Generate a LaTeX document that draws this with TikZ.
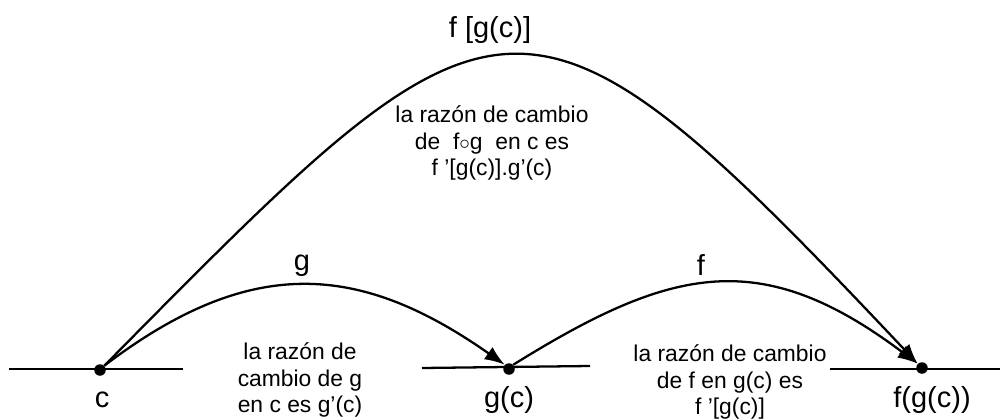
\documentclass[tikz,border=0pt]{standalone}
\usepackage{fontspec}
\setmainfont{Liberation Sans}
\usetikzlibrary{arrows.meta}

\begin{document}
\begin{tikzpicture}[
    dot/.style={circle, fill, inner sep=0pt, minimum size=0.23cm},
    axisline/.style={line width=1.3pt},
    mapping/.style={line width=1.3pt, -{Latex[length=4mm,width=3mm]}},
    ptlabel/.style={font=\fontsize{16.5}{20}\selectfont},
    ratetext/.style={font=\fontsize{13}{15}\selectfont, align=center}
]
    \useasboundingbox (0,0) rectangle (20,8.36);

    \draw[axisline] (0.18,0.98) -- (3.66,0.98);
    \draw[axisline] (8.44,1.00) -- (11.80,1.04);
    \draw[axisline] (16.60,0.98) -- (20.0,0.98);

    \node[dot] (c) at (2.00,0.96) {};
    \node[dot] (gc) at (10.18,0.98) {};
    \node[dot] (fgc) at (18.44,1.00) {};

    \node[ptlabel] (cL) at (2.04,0.36) {c};
    \node[ptlabel] (gcL) at (10.18,0.36) {g(c)};
    \node[ptlabel] (fgcL) at (18.64,0.36) {f(g(c))};

    \draw[mapping] (c.north east) .. controls (5.02,3.28) and (7.20,3.10) .. (gc.north west);
    \draw[mapping] (gc.north east) .. controls (13.44,3.04) and (15.22,3.44) .. (fgc.north west);
    \draw[mapping] (c.north east) .. controls (10.04,9.10) and (10.40,9.52) .. (fgc.north west);

    \node[ptlabel] (gName) at (6.04,3.04) {g};
    \node[ptlabel] (fName) at (14.02,3.06) {f};
    \node[ptlabel] (fgName) at (9.80,7.76) {f [g(c)]};

    \node[ratetext] (rateFG) at (9.84,5.50) {la razón de cambio\\de~~f$\circ$g~~en c es\\f ’[g(c)].g’(c)};
    \node[ratetext] (rateG) at (6.00,0.76) {la razón de\\cambio de g\\en c es g’(c)};
    \node[ratetext] (rateF) at (14.60,0.72) {la razón de cambio\\de f en g(c) es\\f ’[g(c)]};
\end{tikzpicture}
\end{document}
